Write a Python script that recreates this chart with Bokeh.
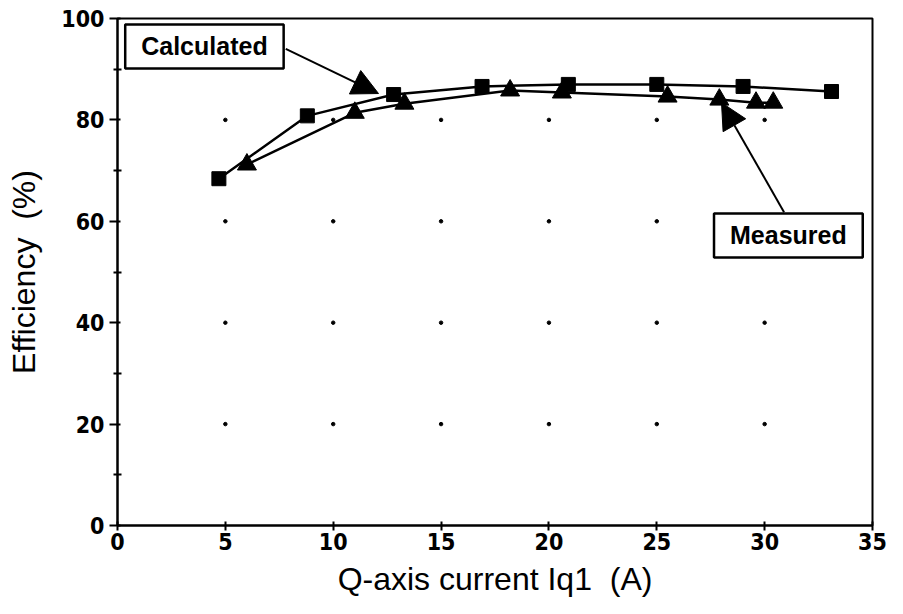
from bokeh.plotting import figure
from bokeh.models import (Label, Arrow, NormalHead, FixedTicker, Range1d)
from bokeh.embed import file_html
from bokeh.resources import INLINE

# Data
calc_x = [4.7, 8.8, 12.8, 16.9, 20.9, 25.0, 29.0, 33.1]
calc_y = [68.4, 80.8, 85.0, 86.6, 87.0, 87.0, 86.6, 85.6]
meas_x = [6.0, 11.0, 13.3, 18.2, 20.6, 25.5, 27.9, 29.6, 30.4]
meas_y = [71.2, 81.4, 83.2, 85.8, 85.4, 84.6, 84.0, 83.4, 83.4]
x_ticks = [0, 5, 10, 15, 20, 25, 30, 35]
y_ticks = [0, 20, 40, 60, 80, 100]
y_minor = [10, 30, 50, 70, 90]
grid_x = [5, 10, 15, 20, 25, 30]
grid_y = [20, 40, 60, 80]

TICK_FONT = "DejaVu Sans Condensed, DejaVu Sans"
LABEL_FONT = "Liberation Sans, Arial, Helvetica"
NB2 = "\u00a0\u00a0"

p = figure(frame_width=755, frame_height=507, output_backend="svg",
           toolbar_location=None, x_range=Range1d(0, 35), y_range=Range1d(0, 100),
           min_border_left=117, min_border_right=31, min_border_top=18,
           min_border_bottom=89)
p.background_fill_color = "white"
p.border_fill_color = "white"
p.outline_line_color = "black"
p.outline_line_width = 2
p.xgrid.visible = False
p.ygrid.visible = False

# Axes
p.xaxis.ticker = FixedTicker(ticks=x_ticks)
p.yaxis.ticker = FixedTicker(ticks=y_ticks, minor_ticks=y_minor)
for ax in (p.xaxis[0], p.yaxis[0]):
    ax.axis_line_width = 2
    ax.axis_line_color = "black"
    ax.major_tick_line_width = 2
    ax.major_tick_line_color = "black"
    ax.minor_tick_line_width = 2
    ax.minor_tick_line_color = "black"
    ax.major_label_text_font = TICK_FONT
    ax.major_label_text_font_style = "bold"
    ax.major_label_text_font_size = "23px"
    ax.major_label_text_color = "black"
    ax.axis_label_text_font = LABEL_FONT
    ax.axis_label_text_font_style = "normal"
    ax.axis_label_text_font_size = "32px"
    ax.axis_label_text_color = "black"

p.xaxis.major_tick_in = 4
p.xaxis.major_tick_out = 5
p.xaxis.minor_tick_in = 0
p.xaxis.minor_tick_out = 0
p.xaxis.major_label_standoff = 2
p.xaxis.axis_label = "Q-axis current Iq1" + NB2 + "(A)"
p.xaxis.axis_label_standoff = 8

p.yaxis.major_tick_in = 3
p.yaxis.major_tick_out = 8
p.yaxis.minor_tick_in = 4
p.yaxis.minor_tick_out = 4
p.yaxis.major_label_standoff = 5
p.yaxis.axis_label = "Efficiency" + NB2 + "(%)"
p.yaxis.axis_label_standoff = 16

# Dotted grid intersections
gx = [x for x in grid_x for _ in grid_y]
gy = [y for _ in grid_x for y in grid_y]
p.scatter(gx, gy, size=3.5, color="black", marker="circle")

# Series
p.line(calc_x, calc_y, line_color="black", line_width=2.5)
p.line(meas_x, meas_y, line_color="black", line_width=2.5)
p.scatter(calc_x, calc_y, marker="square", size=14, color="black")
p.scatter(meas_x, meas_y, marker="triangle", size=19, color="black")

# Annotations
p.add_layout(Arrow(end=NormalHead(size=26, fill_color="black", line_color="black"),
                   x_start=7.8, y_start=94.0, x_end=12.1, y_end=85.2,
                   line_width=2, line_color="black"))
p.add_layout(Arrow(end=NormalHead(size=26, fill_color="black", line_color="black"),
                   x_start=30.9, y_start=61.8, x_end=28.0, y_end=83.4,
                   line_width=2, line_color="black"))

lab_kw = dict(text_font=LABEL_FONT, text_font_style="bold", text_font_size="25px",
              text_color="black", text_align="center", text_baseline="middle",
              border_line_color="black", border_line_width=2.5,
              background_fill_color="white", background_fill_alpha=1.0)
p.add_layout(Label(x=4.03, y=94.5, text="Calculated",
                   padding=dict(left=16, right=16, top=8, bottom=8), **lab_kw))
p.add_layout(Label(x=31.1, y=57.2, text="Measured",
                   padding=dict(left=16, right=16, top=8, bottom=8), **lab_kw))

open("out.html", "w").write(file_html(p, INLINE))
